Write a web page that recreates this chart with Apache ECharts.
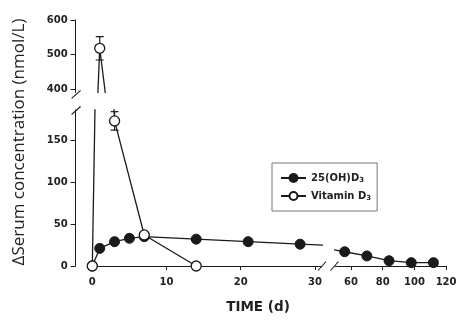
<!DOCTYPE html>
<html><head><meta charset="utf-8">
<script src="https://cdn.jsdelivr.net/npm/echarts@6/dist/echarts.min.js"></script>
<style>html,body{margin:0;padding:0;background:#fff}#c{width:463px;height:330px}</style>
</head><body><div id="c"></div>
<script>
// ---- data ----
const days25 = [0, 1, 3, 5, 7, 14, 21, 28, 56, 70, 84, 98, 112];
const vals25 = [0, 21, 29, 33, 35, 32, 29, 26, 17, 12, 6.3, 4, 4];
const daysVit = [0, 1, 3, 7, 14];
const valsVit = [0, 518, 173, 37, 0];
const errVit  = [0, 34, 11, 0, 0];
const seriesNames = ['25(OH)D3', 'Vitamin D3'];
const xTicksLeft = [0, 10, 20, 30];
const xTicksRight = [60, 80, 100, 120];
const yTicksUpper = [400, 500, 600];
const yTicksLower = [0, 50, 100, 150];

// ---- build ----
const pts25 = days25.map((d, i) => [d, vals25[i]]);
const ptsVit = daysVit.map((d, i) => [d, valsVit[i]]);
const errData = daysVit.map((d, i) => [d, valsVit[i] - errVit[i], valsVit[i] + errVit[i]]).filter((r, i) => errVit[i] > 0);

const INK = '#1a1a1a';
const tickFont = {fontFamily: 'DejaVu Sans', fontWeight: 'bold', fontSize: 10, color: '#222'};

function yAx(grid, min, max, ticks, show) {
  return {
    type: 'value', gridIndex: grid, min: min, max: max, show: show, offset: 13,
    axisLine: {show: true, onZero: false, lineStyle: {color: INK, width: 1}},
    axisTick: {show: true, length: 5, customValues: ticks, lineStyle: {color: INK}},
    axisLabel: Object.assign({customValues: ticks, margin: 8}, tickFont),
    splitLine: {show: false}
  };
}
function xAx(grid, min, max, ticks, show) {
  return {
    type: 'value', gridIndex: grid, min: min, max: max, show: show,
    axisLine: {show: true, onZero: false, lineStyle: {color: INK, width: 1}},
    axisTick: {show: true, length: 4, customValues: ticks, lineStyle: {color: INK}},
    axisLabel: Object.assign({customValues: ticks, margin: 11}, tickFont),
    splitLine: {show: false}
  };
}
const LEFT_MIN = -0.5, LEFT_MAX = 30.9, RIGHT_MIN = 50.2, RIGHT_MAX = 120;
const UP_MIN = 390, UP_MAX = 600, LOW_MIN = 0, LOW_MAX = 186;

function errRender(params, api) {
  const x = api.value(0), lo = api.value(1), hi = api.value(2);
  const a = api.coord([x, lo]), b = api.coord([x, hi]);
  const w = 4, st = {stroke: INK, lineWidth: 1.2};
  return {type: 'group', children: [
    {type: 'line', shape: {x1: a[0], y1: a[1], x2: b[0], y2: b[1]}, style: st},
    {type: 'line', shape: {x1: b[0] - w, y1: b[1], x2: b[0] + w, y2: b[1]}, style: st},
    {type: 'line', shape: {x1: a[0] - w, y1: a[1], x2: a[0] + w, y2: a[1]}, style: st}
  ]};
}

const line25 = {
  type: 'line', name: seriesNames[0], data: pts25, symbol: 'circle', symbolSize: 10,
  clip: true, z: 3,
  itemStyle: {color: INK, borderColor: INK, borderWidth: 1},
  lineStyle: {color: INK, width: 1.3}
};
const lineVit = {
  type: 'line', name: seriesNames[1], data: ptsVit, symbol: 'circle', symbolSize: 10,
  clip: true, z: 4,
  itemStyle: {color: '#fff', borderColor: INK, borderWidth: 1.3},
  lineStyle: {color: INK, width: 1.3}
};

const chart = echarts.init(document.getElementById('c'), null, {renderer: 'canvas'});
const option = {
  animation: false,
  backgroundColor: '#fff',
  grid: [
    {left: 88.6, top: 20, width: 233, height: 72.45, containLabel: false, outerBoundsMode: 'none'},
    {left: 88.6, top: 110, width: 233, height: 156, containLabel: false, outerBoundsMode: 'none'},
    {left: 335.5, top: 110, width: 110.6, height: 156, containLabel: false, outerBoundsMode: 'none'}
  ],
  xAxis: [
    xAx(0, LEFT_MIN, LEFT_MAX, xTicksLeft, false),
    xAx(1, LEFT_MIN, LEFT_MAX, xTicksLeft, true),
    xAx(2, RIGHT_MIN, RIGHT_MAX, xTicksRight, true)
  ],
  yAxis: [
    yAx(0, UP_MIN, UP_MAX, yTicksUpper, true),
    yAx(1, LOW_MIN, LOW_MAX, yTicksLower, true),
    yAx(2, LOW_MIN, LOW_MAX, yTicksLower, false)
  ],
  legend: {
    data: seriesNames, orient: 'vertical', left: 272, top: 163,
    itemWidth: 25, itemHeight: 10, itemGap: 7,
    padding: [10, 6, 9, 8],
    borderColor: '#777', borderWidth: 1, borderRadius: 0,
    formatter: n => n.replace(/3$/, '{s|3}'),
    textStyle: {fontFamily: 'DejaVu Sans', fontWeight: 'bold', fontSize: 10, color: '#222',
      rich: {s: {fontFamily: 'DejaVu Sans', fontWeight: 'bold', fontSize: 7, color: '#222', padding: [5, 0, 0, 0]}}}
  },
  series: [
    Object.assign({}, line25, {xAxisIndex: 1, yAxisIndex: 1}),
    Object.assign({}, line25, {xAxisIndex: 2, yAxisIndex: 2}),
    {type: 'custom', xAxisIndex: 0, yAxisIndex: 0, data: errData, renderItem: errRender, clip: true, z: 1, encode: {x: 0, y: [1, 2]}},
    {type: 'custom', xAxisIndex: 1, yAxisIndex: 1, data: errData, renderItem: errRender, clip: true, z: 1, encode: {x: 0, y: [1, 2]}},
    Object.assign({}, lineVit, {xAxisIndex: 1, yAxisIndex: 1}),
    Object.assign({}, lineVit, {xAxisIndex: 0, yAxisIndex: 0})
  ]
};
chart.setOption(option);

// axis-break slashes and axis titles, positioned from the axes
const upEnd = chart.convertToPixel({xAxisIndex: 0, yAxisIndex: 0}, [LEFT_MIN, UP_MIN]);
const lowTop = chart.convertToPixel({xAxisIndex: 1, yAxisIndex: 1}, [LEFT_MIN, LOW_MAX]);
const leftEnd = chart.convertToPixel({xAxisIndex: 1, yAxisIndex: 1}, [LEFT_MAX, LOW_MIN]);
const rightStart = chart.convertToPixel({xAxisIndex: 2, yAxisIndex: 2}, [RIGHT_MIN, LOW_MIN]);
const yAxX = upEnd[0] - 13;
function slash(cx, cy, dx, dy) {
  return {type: 'line', z: 10, shape: {x1: cx - dx, y1: cy + dy, x2: cx + dx, y2: cy - dy},
    style: {stroke: INK, lineWidth: 1.1}};
}
chart.setOption({
  graphic: [
    slash(yAxX + 0.5, upEnd[1] + 2, 4.5, 4),
    slash(yAxX + 0.5, lowTop[1] + 0.5, 4.5, 4),
    slash(leftEnd[0] + 0.5, leftEnd[1], 4, 4.5),
    slash(rightStart[0] - 1, rightStart[1], 4, 4.5),
    {type: 'text', z: 10, style: {text: 'TIME (d)', x: 258, y: 307, textAlign: 'center', textVerticalAlign: 'middle',
      font: 'bold 13.5px "DejaVu Sans"', fill: '#222'}},
    {type: 'text', z: 10, rotation: Math.PI / 2, x: 19, y: 142,
      style: {text: '\u0394Serum concentration (nmol/L)', x: 0, y: 0, textAlign: 'center', textVerticalAlign: 'middle',
      font: '17px "Open Sans"', fill: '#222'}}
  ]
});
</script></body></html>
